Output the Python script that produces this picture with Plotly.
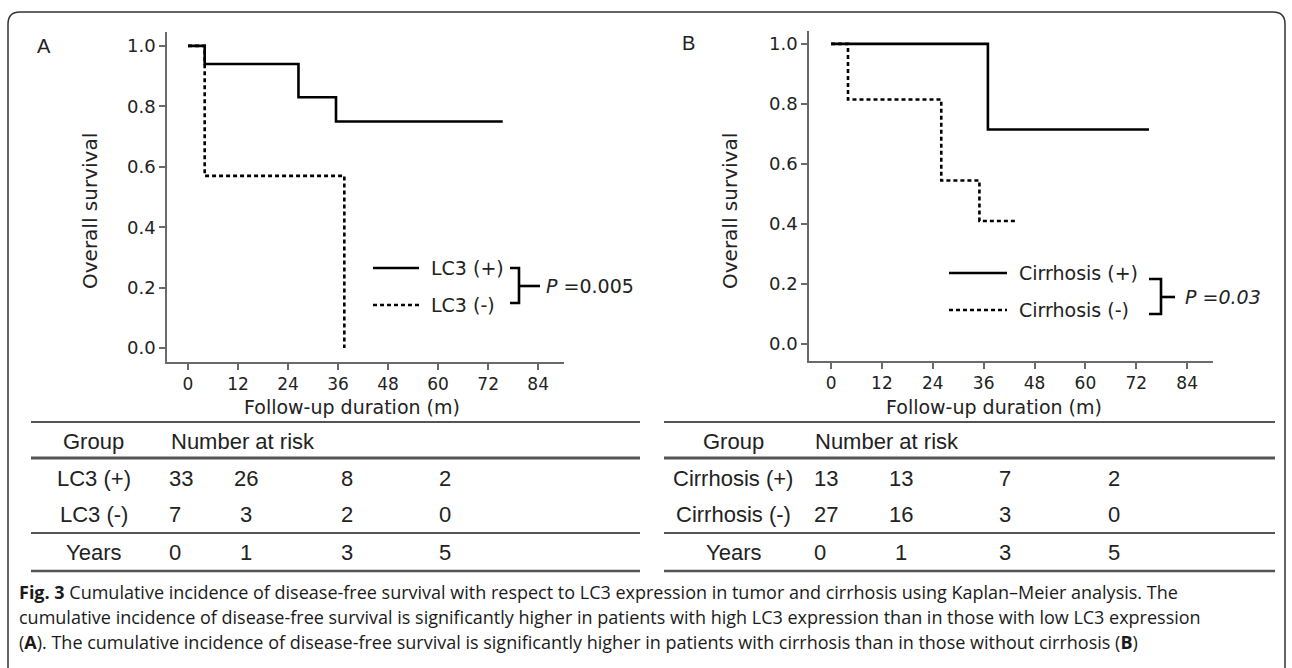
import plotly.graph_objects as go

W, H = 1292, 668

# ---------------- data ----------------
months_ticks = [0, 12, 24, 36, 48, 60, 72, 84]
surv_ticks = [0.0, 0.2, 0.4, 0.6, 0.8, 1.0]

lc3_pos_t = [0, 4, 26.5, 35.5, 75.5]
lc3_pos_s = [1.0, 0.94, 0.83, 0.75, 0.75]
lc3_neg_t = [0, 4, 37.5]
lc3_neg_s = [1.0, 0.57, 0.0]

cir_pos_t = [0, 37, 75]
cir_pos_s = [1.0, 0.715, 0.715]
cir_neg_t = [0, 4, 26, 35, 44]
cir_neg_s = [1.0, 0.815, 0.545, 0.41, 0.41]

labels_A = ["LC3 (+)", "LC3 (-)"]
labels_B = ["Cirrhosis (+)", "Cirrhosis (-)"]
p_A = "<i>P</i> =0.005"
p_B = "<i>P =0.03</i>"

risk_header = ["Group", "Number at risk"]
risk_A = [["LC3 (+)", "33", "26", "8", "2"],
          ["LC3 (-)", "7", "3", "2", "0"],
          ["Years", "0", "1", "3", "5"]]
risk_B = [["Cirrhosis (+)", "13", "13", "7", "2"],
          ["Cirrhosis (-)", "27", "16", "3", "0"],
          ["Years", "0", "1", "3", "5"]]

caption = [
    "<b>Fig. 3</b> Cumulative incidence of disease-free survival with respect to LC3 expression in tumor and cirrhosis using Kaplan–Meier analysis. The",
    "cumulative incidence of disease-free survival is significantly higher in patients with high LC3 expression than in those with low LC3 expression",
    "(<b>A</b>). The cumulative incidence of disease-free survival is significantly higher in patients with cirrhosis than in those without cirrhosis (<b>B</b>)",
]

# ---------------- helpers ----------------
def X(px):
    return px / W

def Y(py):
    return 1 - py / H

PLOT_FONT = "DejaVu Sans"
TAB_FONT = "Liberation Sans, Arial"
CAP_FONT = "Open Sans"
TXT = "#222222"
AX = "#6a6a6a"

fig = go.Figure()

solid = dict(color="black", width=2.6)
dashed = dict(color="black", width=2.6, dash="4px,3px")

fig.add_trace(go.Scatter(x=lc3_pos_t, y=lc3_pos_s, mode="lines", line=solid, line_shape="hv",
                         xaxis="x", yaxis="y", showlegend=False, hoverinfo="skip"))
fig.add_trace(go.Scatter(x=lc3_neg_t, y=lc3_neg_s, mode="lines", line=dashed, line_shape="hv",
                         xaxis="x", yaxis="y", showlegend=False, hoverinfo="skip"))
fig.add_trace(go.Scatter(x=cir_pos_t, y=cir_pos_s, mode="lines", line=solid, line_shape="hv",
                         xaxis="x2", yaxis="y2", showlegend=False, hoverinfo="skip"))
fig.add_trace(go.Scatter(x=cir_neg_t, y=cir_neg_s, mode="lines", line=dashed, line_shape="hv",
                         xaxis="x2", yaxis="y2", showlegend=False, hoverinfo="skip"))

def xax(domain, rng, anchor):
    return dict(domain=domain, range=rng, anchor=anchor, tickmode="array", tickvals=months_ticks,
                showline=True, linecolor=AX, linewidth=1.5, ticks="outside", ticklen=6,
                tickcolor=AX, tickwidth=1.5, showgrid=False, zeroline=False,
                tickfont=dict(family=PLOT_FONT, size=17, color=TXT), fixedrange=True)

def yax(domain, rng, anchor):
    return dict(domain=domain, range=rng, anchor=anchor, tickmode="array", tickvals=surv_ticks,
                tickformat=".1f", showline=True, linecolor=AX, linewidth=1.5, ticks="outside",
                ticklen=6, tickcolor=AX, tickwidth=1.5, showgrid=False, zeroline=False,
                tickfont=dict(family=PLOT_FONT, size=18, color=TXT), fixedrange=True)

layout = dict(
    width=W, height=H, margin=dict(l=0, r=0, t=0, b=0),
    paper_bgcolor="white", plot_bgcolor="white", showlegend=False,
    xaxis=xax([X(167), X(564)], [-5.04, 90.2], "y"),
    yaxis=yax([Y(362), Y(32)], [-0.046, 1.046], "x"),
    xaxis2=xax([X(809), X(1213)], [-5.2, 90.1], "y2"),
    yaxis2=yax([Y(361), Y(31)], [-0.056, 1.043], "x2"),
)
fig.update_layout(**layout)

shapes = []
annots = []

def line(x0, y0, x1, y1, width=2.6, color="black", dash=None):
    d = dict(type="line", xref="paper", yref="paper", x0=X(x0), y0=Y(y0), x1=X(x1), y1=Y(y1),
             line=dict(color=color, width=width))
    if dash:
        d["line"]["dash"] = dash
    shapes.append(d)

def path(points, width=2.6, color="black"):
    s = "M " + " L ".join(f"{X(a):.5f},{Y(b):.5f}" for a, b in points)
    shapes.append(dict(type="path", xref="paper", yref="paper", path=s,
                       line=dict(color=color, width=width)))

def text(x, y, t, size, family=PLOT_FONT, xanchor="center", angle=0, color=TXT):
    annots.append(dict(x=X(x), y=Y(y), xref="paper", yref="paper", text=t, showarrow=False,
                       xanchor=xanchor, yanchor="middle", textangle=angle,
                       font=dict(family=family, size=size, color=color)))

# frame (rounded top corners)
fr = (f"M {X(8):.5f},{Y(668):.5f} L {X(8):.5f},{Y(24):.5f} Q {X(8):.5f},{Y(12):.5f} {X(20):.5f},{Y(12):.5f} "
      f"L {X(1273):.5f},{Y(12):.5f} Q {X(1285):.5f},{Y(12):.5f} {X(1285):.5f},{Y(24):.5f} L {X(1285):.5f},{Y(668):.5f}")
shapes.append(dict(type="path", xref="paper", yref="paper", path=fr, line=dict(color="#333333", width=1.5)))

# panel labels
text(44, 46, "A", 20, family=TAB_FONT)
text(688, 43, "B", 20, family=TAB_FONT)

# axis titles
text(90, 211, "Overall survival", 20, angle=-90)
text(730, 211, "Overall survival", 20, angle=-90)
text(352, 407, "Follow-up duration (m)", 19)
text(994, 407, "Follow-up duration (m)", 19)

# legend A
line(373, 268, 419, 268)
line(373, 305, 419, 305, dash="4px,3px")
text(429, 268, labels_A[0], 19, xanchor="left")
text(429, 305, labels_A[1], 19, xanchor="left")
path([(510, 268), (519, 268), (519, 303), (510, 303)])
line(519, 286, 540, 286)
text(544, 286, p_A, 19, xanchor="left")

# legend B
line(949, 273, 1007, 273)
line(949, 310, 1007, 310, dash="4px,3px")
text(1017, 273, labels_B[0], 19, xanchor="left")
text(1017, 310, labels_B[1], 19, xanchor="left")
path([(1149, 279), (1161, 279), (1161, 314), (1149, 314)])
line(1161, 297, 1175, 297)
text(1183, 297, p_B, 19, xanchor="left")

# risk tables
row_y = [478, 514, 552]
def table(x0, x1, grp_x, num_left, col1_left, col_x, rows):
    line(x0, 422, x1, 422, width=2, color="#555555")
    line(x0, 458, x1, 458, width=3, color="#555555")
    line(x0, 533, x1, 533, width=2, color="#555555")
    line(x0, 571, x1, 571, width=2.5, color="#555555")
    text(grp_x, 441, risk_header[0], 22, family=TAB_FONT)
    text(num_left, 441, risk_header[1], 22, family=TAB_FONT, xanchor="left")
    for ry, row in zip(row_y, rows):
        text(grp_x, ry, row[0], 22, family=TAB_FONT)
        text(col1_left, ry, row[1], 22, family=TAB_FONT, xanchor="left")
        for cx, v in zip(col_x, row[2:]):
            text(cx, ry, v, 22, family=TAB_FONT)

table(31, 640, 94, 169, 167, [246, 347, 445], risk_A)
table(664, 1275, 733, 813, 812, [901, 1005, 1114], risk_B)

# caption
for i, ln in enumerate(caption):
    text(17, 592 + 25 * i, ln, 18, family=CAP_FONT, xanchor="left", color="#1a1a1a")

fig.update_layout(shapes=shapes, annotations=annots)
fig.write_html("out.html", config={"displayModeBar": False},
               post_script="document.body.style.margin='0';document.body.style.overflow='hidden';")
